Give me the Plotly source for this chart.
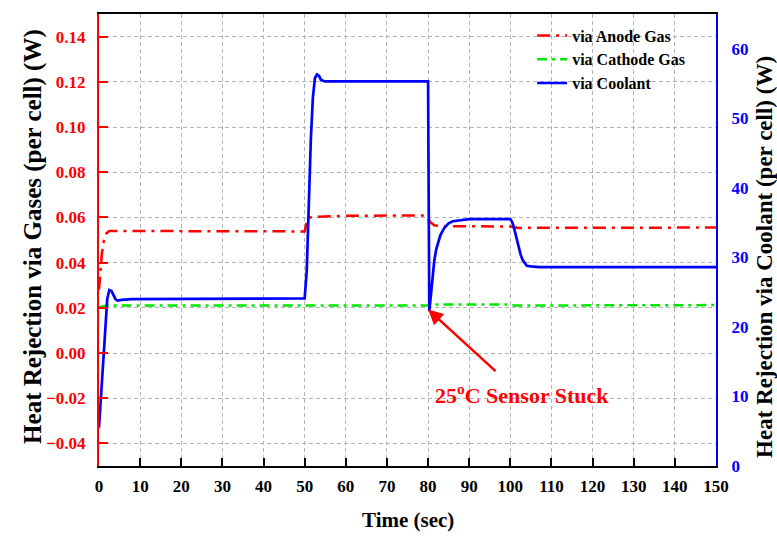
import plotly.graph_objects as go

# ---------------- data ----------------
coolant_t = [0, 0.5, 1.0, 1.5, 2.0, 2.5, 3.0, 3.5, 4.0, 4.5, 5.5, 8, 20, 50,
             50.5, 51, 51.5, 52, 52.5, 53, 53.5, 54, 55, 80,
             80.3, 80.6, 81, 81.5, 82, 83, 84, 85, 86, 88, 90, 100,
             100.5, 101, 101.5, 102, 102.5, 103, 103.5, 104, 105, 107, 150]
coolant_w = [5.5, 10, 15, 20, 24, 25.3, 25.2, 24.6, 24.0, 23.8, 23.9, 24.0, 24.0, 24.1,
             28, 38, 47, 53, 55.8, 56.3, 56.1, 55.5, 55.3, 55.3,
             22.3, 24, 27, 29.5, 31.2, 33.2, 34.3, 34.9, 35.2, 35.4, 35.5, 35.5,
             35.0, 34, 32.8, 31.5, 30.4, 29.6, 29.1, 28.8, 28.7, 28.6, 28.6]

anode_t = [0, 0.3, 0.7, 1.2, 1.8, 2.5, 50, 50.5, 51, 53, 60, 70, 79.5,
           80.5, 81.5, 83, 100, 101, 102, 105, 150]
anode_w = [0.028, 0.036, 0.044, 0.050, 0.053, 0.054, 0.0538, 0.058, 0.0600, 0.0603,
           0.0607, 0.0608, 0.0608, 0.058, 0.0565, 0.0561, 0.0560, 0.0556, 0.0553,
           0.0554, 0.0555]

cathode_t = [0, 0.5, 2, 50, 51, 80, 81, 100, 101, 150]
cathode_w = [0.020, 0.0205, 0.021, 0.0208, 0.021, 0.021, 0.0215, 0.0215, 0.021, 0.0212]

x_ticks = list(range(0, 151, 10))
left_ticks = [-0.04, -0.02, 0.00, 0.02, 0.04, 0.06, 0.08, 0.10, 0.12, 0.14]
right_ticks = [0, 10, 20, 30, 40, 50, 60]

FONT = "Liberation Serif"
RED = "#ff0000"
BLUE = "#0000ff"
GREEN = "#00e600"

fig = go.Figure()
fig.add_trace(go.Scatter(x=anode_t, y=anode_w, name="via Anode Gas", mode="lines",
                         line=dict(color=RED, width=2.5, dash="13px,6px,3px,6px"),
                         yaxis="y"))
fig.add_trace(go.Scatter(x=cathode_t, y=cathode_w, name="via Cathode Gas", mode="lines",
                         line=dict(color=GREEN, width=2.5, dash="10px,5px,3px,5px"),
                         yaxis="y"))
fig.add_trace(go.Scatter(x=coolant_t, y=coolant_w, name="via Coolant", mode="lines",
                         line=dict(color=BLUE, width=2.7), yaxis="y2"))

grid = dict(showgrid=True, gridcolor="#b4b4b4", gridwidth=1, griddash="4px,3px")

fig.update_layout(
    width=777, height=536,
    margin=dict(l=99, r=61, t=12, b=70),
    paper_bgcolor="white", plot_bgcolor="white",
    font=dict(family=FONT, size=17, color="black", weight="bold"),
    showlegend=True,
    legend=dict(x=0.702, y=0.99, xanchor="left", yanchor="top",
                bgcolor="rgba(0,0,0,0)", borderwidth=0,
                font=dict(family=FONT, size=16, color="black", weight="bold"),
                tracegroupgap=0),
    xaxis=dict(range=[0, 150], tickvals=x_ticks, ticks="inside", ticklen=8, tickwidth=2,
               tickcolor="black", showline=True, linecolor="black", linewidth=2,
               mirror=True, zeroline=False,
               tickfont=dict(family=FONT, size=17, color="black", weight="bold"),
               ticklabelstandoff=4, **grid),
    yaxis=dict(range=[-0.05, 0.15], tickvals=left_ticks, tickformat=".2f",
               ticks="inside", ticklen=9, tickwidth=2, tickcolor=RED,
               showline=True, linecolor=RED, linewidth=2, zeroline=False,
               tickfont=dict(family=FONT, size=17, color=RED, weight="bold"),
               ticklabelstandoff=8, **grid),
    yaxis2=dict(range=[0, 65], tickvals=right_ticks, overlaying="y", side="right",
                showline=True, linecolor=BLUE, linewidth=2, showgrid=False,
                zeroline=False, ticks="",
                tickfont=dict(family=FONT, size=17, color=BLUE, weight="bold"),
                ticklabelstandoff=10),
)

fig.add_annotation(text="Heat Rejection via Gases (per cell) (W)", xref="paper", yref="paper",
                   x=-0.107, y=0.509, xanchor="center", yanchor="middle", textangle=-90,
                   showarrow=False, font=dict(family=FONT, size=25, color="black", weight="bold"))
fig.add_annotation(text="Heat Rejection via Coolant (per cell) (W)", xref="paper", yref="paper",
                   x=1.0794, y=0.4626, xanchor="center", yanchor="middle", textangle=-90,
                   showarrow=False, font=dict(family=FONT, size=23, color="black", weight="bold"))
fig.add_annotation(text="Time (sec)", xref="paper", yref="paper",
                   x=0.5, y=-0.119, xanchor="center", yanchor="middle",
                   showarrow=False, font=dict(family=FONT, size=21, color="black", weight="bold"))

# arrow to the sensor-stuck dip
fig.add_annotation(text="", x=80, y=22.5, xref="x", yref="y2", ax=69, ay=63,
                   showarrow=True, arrowhead=2, arrowsize=1.2, arrowwidth=2.5,
                   arrowcolor=RED, standoff=0, startstandoff=0)
fig.add_annotation(text="25<sup>o</sup>C Sensor Stuck", x=0.685, y=0.16, xref="paper", yref="paper",
                   xanchor="center", yanchor="middle", showarrow=False,
                   font=dict(family=FONT, size=22, color=RED, weight="bold"))

fig.write_html("out.html")
